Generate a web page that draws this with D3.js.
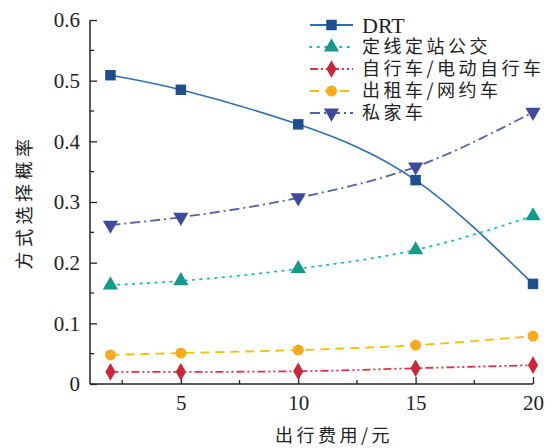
<!DOCTYPE html>
<html>
<head>
<meta charset="utf-8">
<script src="https://cdn.jsdelivr.net/npm/d3@7"></script>
<style>
  body { margin: 0; background: #fff; }
  text { fill: #222; }
</style>
</head>
<body>
<div id="chart"></div>
<script>
// data
const costs = [2, 5, 10, 15, 20];
const drt = [0.509, 0.485, 0.428, 0.336, 0.165];
const bus = [0.163, 0.170, 0.190, 0.221, 0.277];
const bike = [0.020, 0.020, 0.021, 0.026, 0.031];
const taxi = [0.048, 0.051, 0.056, 0.064, 0.079];
const car = [0.262, 0.275, 0.307, 0.358, 0.448];
const seriesNames = ['DRT', '定线定站公交', '自行车/电动自行车', '出租车/网约车', '私家车'];
const xTicks = [5, 10, 15, 20];
const yTicks = [0, 0.1, 0.2, 0.3, 0.4, 0.5, 0.6];

const series = [
    { name: seriesNames[0], values: drt, line: '#2f6db0', fill: '#1f4f8e', dash: null, shape: d3.symbolSquare, size: 110, curve: d3.curveNatural },
    { name: seriesNames[1], values: bus, line: '#19b6c4', fill: '#14998a', dash: '1.5,6', shape: d3.symbolTriangle, size: 100 },
    { name: seriesNames[2], values: bike, line: '#e03048', fill: '#c9283b', dash: '8,3,2,3,2,3', shape: d3.symbolDiamond, size: 90 },
    { name: seriesNames[3], values: taxi, line: '#f5c000', fill: '#f7aa1e', dash: '9,6', shape: d3.symbolCircle, size: 95 },
    { name: seriesNames[4], values: car, line: '#5560a8', fill: '#3e4a9a', dash: '10,4,2,4', shape: d3.symbolTriangle, size: 100, flip: true }
];

const width = 559, height = 448;
const margin = { top: 20, right: 26, bottom: 64, left: 90 };

const svg = d3.select('#chart').append('svg')
    .attr('width', width)
    .attr('height', height);

const x = d3.scaleLinear()
    .domain([1.13, 20])
    .range([margin.left, width - margin.right]);

const y = d3.scaleLinear()
    .domain([0, 0.6])
    .range([height - margin.bottom, margin.top]);

const numFont = '"Liberation Serif", "DejaVu Serif", serif';
const cjkFont = '"Noto Sans CJK SC", sans-serif';

// axes
const xAxis = svg.append('g')
    .attr('transform', `translate(0,${y(0)})`)
    .call(d3.axisBottom(x).tickValues(xTicks).tickSize(-7).tickPadding(11).tickFormat(d3.format('d')));
xAxis.append('g').call(g => g.selectAll('line.minor')
    .data([2.5, 7.5, 12.5, 17.5]).enter().append('line')
    .attr('x1', d => x(d)).attr('x2', d => x(d))
    .attr('y1', 0).attr('y2', -4).attr('stroke', '#222').attr('stroke-width', 1.3));

const yAxis = svg.append('g')
    .attr('transform', `translate(${margin.left},0)`)
    .call(d3.axisLeft(y).tickValues(yTicks).tickSize(-7).tickPadding(10)
        .tickFormat(d => d === 0 ? '0' : d3.format('.1f')(d)));
yAxis.append('g').call(g => g.selectAll('line.minor')
    .data([0.05, 0.15, 0.25, 0.35, 0.45, 0.55]).enter().append('line')
    .attr('y1', d => y(d)).attr('y2', d => y(d))
    .attr('x1', 0).attr('x2', 4).attr('stroke', '#222').attr('stroke-width', 1.3));

[xAxis, yAxis].forEach(a => {
    a.select('.domain').attr('stroke', '#222').attr('stroke-width', 1.5);
    a.selectAll('.tick line').attr('stroke', '#222').attr('stroke-width', 1.3);
    a.selectAll('.tick text').attr('font-family', numFont).attr('font-size', 21).attr('fill', '#222');
});
xAxis.select('.domain').attr('d', `M${x.range()[0]},0H${x.range()[1]}`);
yAxis.select('.domain').attr('d', `M0,${y.range()[0]}V${y.range()[1]}`);

// axis titles
svg.append('text')
    .attr('x', 334).attr('y', 442)
    .attr('text-anchor', 'middle')
    .attr('font-family', cjkFont).attr('font-size', 18)
    .attr('letter-spacing', 3.5)
    .text('出行费用/元');

svg.append('text')
    .attr('transform', `translate(31,${(y(0) + y(0.6)) / 2}) rotate(-90)`)
    .attr('text-anchor', 'middle')
    .attr('font-family', cjkFont).attr('font-size', 18)
    .attr('letter-spacing', 4.5)
    .text('方式选择概率');

// lines
series.forEach(s => {
    const pts = costs.map((c, i) => [c, s.values[i]]);
    const line = d3.line()
        .x(d => x(d[0]))
        .y(d => y(d[1]))
        .curve(s.curve || d3.curveMonotoneX);
    svg.append('path')
        .datum(pts)
        .attr('fill', 'none')
        .attr('stroke', s.line)
        .attr('stroke-width', s.name === 'DRT' ? 1.6 : 1.8)
        .attr('stroke-dasharray', s.dash)
        .attr('stroke-linecap', s.dash === '1.5,6' ? 'round' : 'butt')
        .attr('d', line);

    svg.selectAll(null)
        .data(pts)
        .enter()
        .append('path')
        .attr('d', d3.symbol().type(s.shape).size(s.size))
        .attr('transform', d => `translate(${x(d[0])},${y(d[1])})${s.flip ? ' rotate(180)' : ''}`)
        .attr('fill', s.fill);
});

// legend
const legend = svg.append('g').attr('transform', 'translate(310,25)');
series.forEach((s, i) => {
    const g = legend.append('g').attr('transform', `translate(0,${i * 22})`);
    g.append('line')
        .attr('x1', 0).attr('x2', 43).attr('y1', 0).attr('y2', 0)
        .attr('stroke', s.line).attr('stroke-width', 1.8)
        .attr('stroke-dasharray', s.dash)
        .attr('stroke-linecap', s.dash === '1.5,6' ? 'round' : 'butt');
    g.append('path')
        .attr('d', d3.symbol().type(s.shape).size(s.size))
        .attr('transform', `translate(21.5,0)${s.flip ? ' rotate(180)' : ''}`)
        .attr('fill', s.fill);
    g.append('text')
        .attr('x', 52).attr('y', 0).attr('dy', '0.36em')
        .attr('font-family', s.name === 'DRT' ? numFont : cjkFont)
        .attr('font-size', s.name === 'DRT' ? 22 : 18)
        .attr('letter-spacing', s.name === 'DRT' ? 0 : 3.5)
        .text(s.name);
});
</script>
</body>
</html>
